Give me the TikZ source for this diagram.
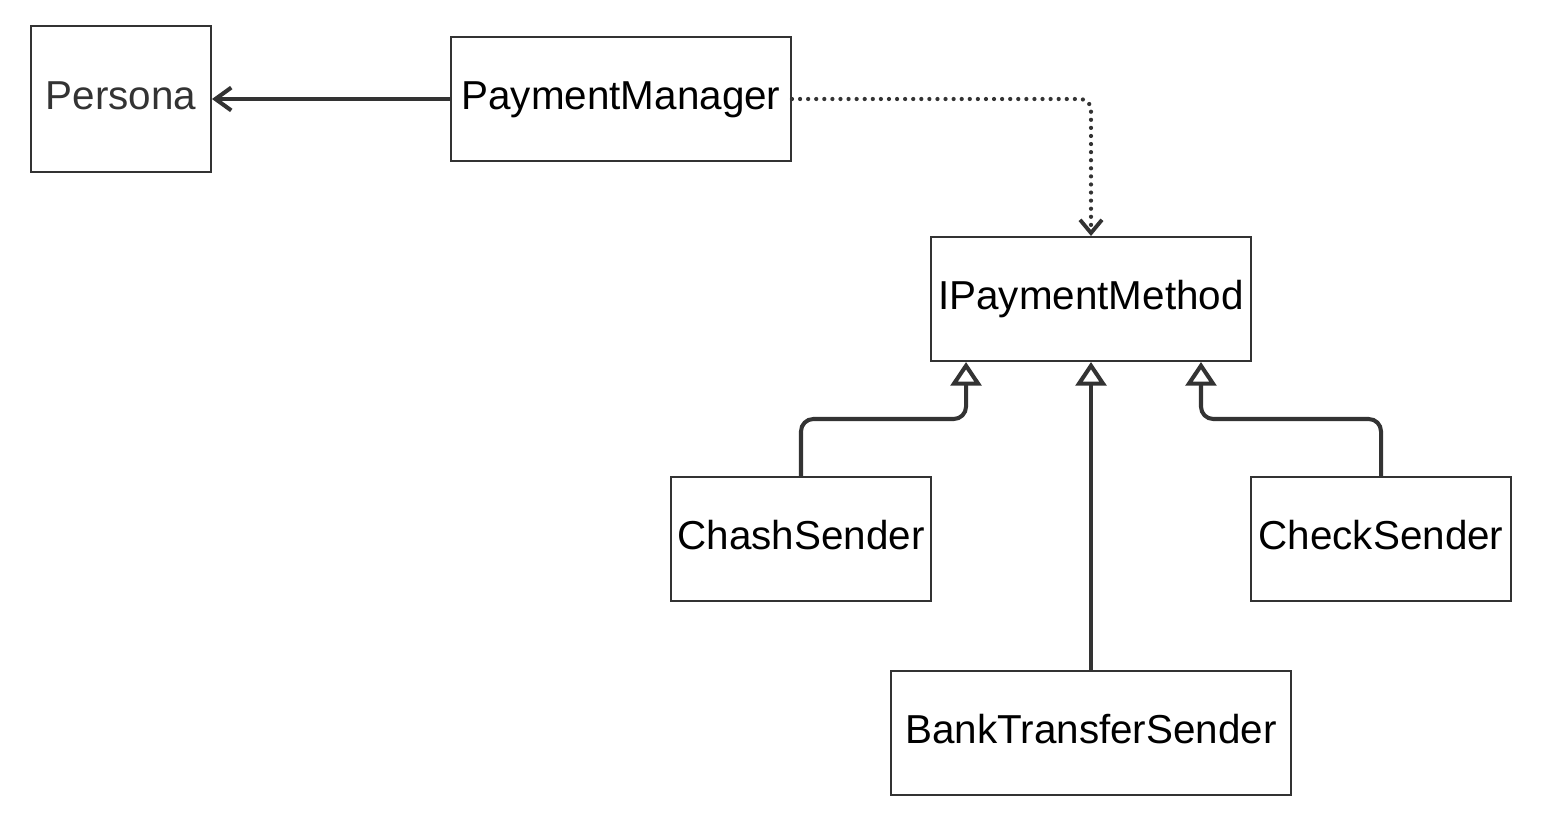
\documentclass[tikz,border=0pt]{standalone}
\usepackage{fontspec}
\setmainfont{Liberation Sans}
\usetikzlibrary{arrows.meta,calc}
\definecolor{ink}{HTML}{333333}
\tikzset{
  box/.style={draw=ink, line width=1.15pt, inner sep=0pt, minimum height=2.48cm, text height=16.6pt, text depth=4.2pt, font=\fontsize{23}{27}\selectfont, text=black},
  assoc/.style={draw=ink, line width=2.3pt, -{Straight Barb[length=9pt,width=13pt,line width=2.3pt]}},
  dep/.style={draw=ink, line width=2.4pt, line cap=round, dash pattern=on 0pt off 4.6pt, rounded corners=6pt, -{Straight Barb[length=7.5pt,width=12.5pt,line width=2.2pt]}},
  inh/.style={draw=ink, line width=2.3pt, rounded corners=7pt, -{Triangle[open,length=13.5pt,width=17.5pt,line width=2.3pt]}}
}
\begin{document}
\begin{tikzpicture}[x=0.02cm,y=-0.02cm]
\useasboundingbox (0,0) rectangle (1544,839);
\node[box, minimum width=3.6cm, minimum height=2.92cm, text=ink] (per) at (121,99) {Persona};
\node[box, minimum width=6.8cm] (pm) at (621,99) {PaymentManager};
\node[box, minimum width=6.4cm] (ip) at (1091,299) {IPaymentMethod};
\node[box, minimum width=5.2cm] (cs) at (801,539) {ChashSender};
\node[box, minimum width=5.2cm] (chk) at (1381,539) {CheckSender};
\node[box, minimum width=8cm] (bt) at (1091,733) {BankTransferSender};
\draw[assoc] (pm.west) -- (per.east);
\draw[dep] (pm.east) -| (ip.north);
\draw[inh] (cs.north) -- ++(0,-57) -| ([xshift=-2.5cm]ip.south);
\draw[inh] (bt.north) -- (ip.south);
\draw[inh] (chk.north) -- ++(0,-57) -| ([xshift=2.2cm]ip.south);
\end{tikzpicture}
\end{document}
